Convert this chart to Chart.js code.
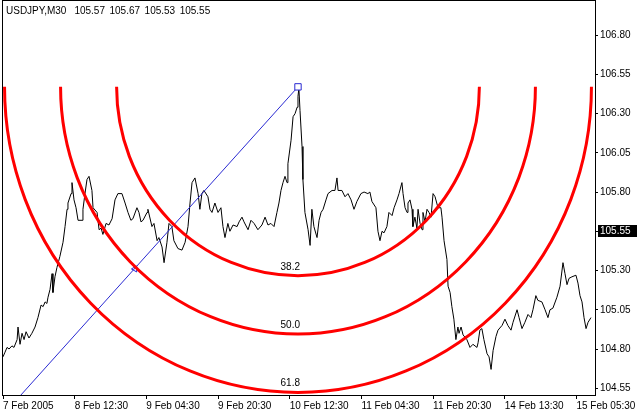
<!DOCTYPE html>
<html>
<head>
<meta charset="utf-8">
<script src="https://cdn.jsdelivr.net/npm/chart.js@4.4.1/dist/chart.umd.min.js"></script>
<style>
  html, body { margin: 0; padding: 0; background: #fff; }
  #wrap { width: 639px; height: 417px; }
</style>
</head>
<body>
<div id="wrap"><canvas id="chart"></canvas></div>
<script>
const symbol = 'USDJPY,M30';
const ohlc = [105.57, 105.67, 105.53, 105.55];

const xTickBars = [0, 32, 64, 96, 128, 160, 192, 224, 256];
const xTickLabels = ['7 Feb 2005', '8 Feb 12:30', '9 Feb 04:30', '9 Feb 20:30', '10 Feb 12:30',
  '11 Feb 04:30', '11 Feb 20:30', '14 Feb 13:30', '15 Feb 05:30'];
const yTicks = [104.55, 104.80, 105.05, 105.30, 105.55, 105.80, 106.05, 106.30, 106.55, 106.80];

// bar number (M30 bars since the left edge) and close price
const bars = [
  0, 0.9, 1.8, 2.7, 4.0, 4.9, 6.3, 6.7, 7.6, 8.5, 9.4, 10.3, 11.6, 12.9, 14.3, 15.6, 17.0, 17.9, 18.8, 19.6,
  20.1, 21.0, 21.9, 22.3, 23.2, 24.1, 25.4, 26.8, 27.7, 28.6, 29.0, 30.4, 30.8, 31.7, 32.6, 33.5, 35.3, 35.7, 36.6, 37.5,
  38.4, 39.7, 40.2, 42.0, 42.9, 43.8, 44.6, 46.0, 47.3, 48.7, 50.0, 51.3, 53.1, 54.5, 55.8, 57.1, 58.0, 59.8, 60.7, 61.6,
  62.5, 64.3, 64.7, 66.5, 67.4, 68.8, 69.6, 71.0, 71.9, 73.2, 74.1, 75.4, 76.3, 78.1, 79.9, 81.3, 82.6, 83.5, 84.4, 85.7,
  87.1, 87.9, 88.8, 89.7, 91.5, 92.4, 93.3, 94.6, 96.0, 97.3, 98.2, 99.1, 100.4, 101.3, 102.7, 104.5, 105.4, 106.7, 107.6, 109.4,
  110.7, 112.1, 113.8, 115.6, 117.0, 118.3, 119.6, 121.0, 122.3, 123.2, 124.1, 125.0, 125.9, 126.8, 127.2, 128.6, 129.5, 130.4, 131.3, 131.7,
  132.1, 132.6, 133.5, 133.9, 134.8, 136.2, 137.1, 137.9, 138.8, 140.2, 141.1, 142.0, 142.9, 144.2, 145.1, 146.9, 148.2, 149.1, 149.6, 151.3,
  152.7, 154.0, 155.4, 156.7, 158.0, 159.8, 161.2, 162.9, 163.8, 164.7, 166.5, 167.4, 168.3, 169.2, 170.1, 171.4, 172.3, 173.7, 174.6, 175.9,
  176.8, 178.1, 178.6, 179.5, 180.4, 180.8, 181.7, 182.6, 183.0, 183.9, 184.8, 185.3, 186.2, 187.1, 187.5, 188.4, 189.3, 190.2, 191.1, 192.0,
  192.9, 194.2, 195.5, 196.0, 196.9, 198.2, 198.7, 199.6, 200.4, 201.3, 202.2, 203.1, 203.6, 204.5, 205.4, 207.1, 208.5, 209.8, 211.6, 212.1,
  212.9, 213.8, 214.7, 216.1, 217.0, 217.9, 218.8, 220.1, 221.0, 222.8, 224.1, 225.4, 226.8, 227.7, 229.5, 230.4, 231.7, 233.0, 234.4, 235.7,
  236.6, 237.9, 238.8, 240.6, 242.0, 243.3, 244.2, 245.5, 247.3, 248.7, 250.0, 250.9, 251.8, 252.7, 254.0, 255.8, 256.7, 257.6, 258.5, 259.4,
  260.3, 261.2, 262.5
];
const closes = [
  104.75, 104.78, 104.81, 104.80, 104.82, 104.81, 104.86, 104.94, 104.83, 104.90, 104.86, 104.91, 104.87, 104.90, 104.94, 105.00, 105.08, 105.07, 105.10, 105.09,
  105.13, 105.18, 105.28, 105.16, 105.26, 105.32, 105.39, 105.48, 105.58, 105.69, 105.73, 105.79, 105.86, 105.75, 105.70, 105.62, 105.62, 105.69, 105.79, 105.88,
  105.90, 105.81, 105.70, 105.67, 105.56, 105.57, 105.53, 105.60, 105.59, 105.63, 105.75, 105.79, 105.79, 105.73, 105.67, 105.62, 105.63, 105.70, 105.67, 105.61,
  105.62, 105.67, 105.69, 105.58, 105.60, 105.49, 105.51, 105.45, 105.35, 105.48, 105.60, 105.58, 105.49, 105.44, 105.43, 105.48, 105.58, 105.73, 105.86, 105.89,
  105.79, 105.69, 105.79, 105.81, 105.77, 105.69, 105.67, 105.73, 105.67, 105.70, 105.58, 105.51, 105.60, 105.55, 105.59, 105.58, 105.61, 105.64, 105.61, 105.56,
  105.62, 105.60, 105.56, 105.59, 105.64, 105.59, 105.60, 105.58, 105.67, 105.73, 105.81, 105.86, 105.90, 105.86, 105.98, 106.13, 106.28, 106.30, 106.34, 106.41,
  106.46, 106.32, 106.09, 105.88, 105.67, 105.56, 105.46, 105.69, 105.58, 105.51, 105.62, 105.67, 105.69, 105.75, 105.79, 105.81, 105.81, 105.89, 105.81, 105.81,
  105.77, 105.79, 105.75, 105.69, 105.74, 105.79, 105.80, 105.79, 105.80, 105.74, 105.70, 105.55, 105.49, 105.55, 105.54, 105.58, 105.67, 105.65, 105.70, 105.75,
  105.79, 105.86, 105.79, 105.70, 105.67, 105.73, 105.75, 105.69, 105.58, 105.64, 105.57, 105.69, 105.60, 105.56, 105.67, 105.61, 105.69, 105.67, 105.64, 105.79,
  105.77, 105.70, 105.70, 105.64, 105.49, 105.37, 105.20, 105.16, 105.07, 104.99, 104.86, 104.94, 104.90, 104.94, 104.89, 104.86, 104.81, 104.83, 104.81, 104.84,
  104.92, 104.93, 104.86, 104.77, 104.75, 104.67, 104.79, 104.88, 104.92, 104.95, 104.99, 104.95, 104.92, 104.97, 105.05, 105.00, 104.93, 104.97, 105.02, 105.00,
  105.05, 105.14, 105.11, 105.10, 105.05, 105.00, 105.05, 105.06, 105.13, 105.20, 105.35, 105.28, 105.21, 105.25, 105.26, 105.27, 105.22, 105.14, 105.10, 105.00,
  104.93, 104.97, 105.00
];

// Fibonacci arcs: anchor points, levels, and the 100% arc span in bars / price
const fibHigh = { bar: 131.7, price: 106.47 };
const fibLow = { bar: 0, price: 104.38 };
const fibLevels = [38.2, 50.0, 61.8];
const arcSpanBars = 212;
const arcSpanPrice = 3.15;
const fibMarker = { bar: 58.9, price: 105.31 };

const FONT = '"Liberation Sans", Arial, sans-serif';

const mt4Plugin = {
  id: 'mt4',
  afterDatasetsDraw(chart) {
    const { ctx, chartArea: a, scales: { x, y } } = chart;
    const cx = x.getPixelForValue(fibHigh.bar);
    const cy = y.getPixelForValue(fibHigh.price);
    ctx.save();
    ctx.beginPath();
    ctx.rect(a.left, a.top, a.right - a.left, a.bottom - a.top);
    ctx.clip();
    ctx.strokeStyle = '#ff0000';
    ctx.lineWidth = 3;
    ctx.font = '10px ' + FONT;
    ctx.fillStyle = '#000';
    ctx.textAlign = 'right';
    ctx.textBaseline = 'alphabetic';
    fibLevels.forEach((lv) => {
      const f = lv / 100;
      const rx = x.getPixelForValue(fibHigh.bar + f * arcSpanBars) - cx;
      const ry = y.getPixelForValue(fibHigh.price - f * arcSpanPrice) - cy;
      ctx.beginPath();
      ctx.ellipse(cx, cy, rx, ry, 0, 0, Math.PI);
      ctx.stroke();
      ctx.fillText(lv.toFixed(1), cx + 2, cy + ry - 6);
    });
    ctx.restore();
  },
  afterDraw(chart) {
    const { ctx, chartArea: a, scales: { y } } = chart;
    ctx.save();
    // frame
    ctx.strokeStyle = '#000';
    ctx.lineWidth = 1;
    ctx.strokeRect(a.left - 0.5, a.top - 0.5, a.right - a.left + 1, a.bottom - a.top + 1);
    // title
    ctx.font = '10px ' + FONT;
    ctx.fillStyle = '#000';
    ctx.textBaseline = 'middle';
    ctx.textAlign = 'left';
    let tx = 6;
    ctx.fillText(symbol, tx, 11);
    tx += ctx.measureText(symbol).width + 8;
    ohlc.forEach((v) => {
      const s = v.toFixed(2);
      ctx.fillText(s, tx, 11);
      tx += ctx.measureText(s).width + 4.5;
    });
    // last price box
    const last = ohlc[3];
    const py = Math.round(y.getPixelForValue(last));
    ctx.fillStyle = '#000';
    ctx.fillRect(a.right + 3, py - 6, 39, 12);
    ctx.fillStyle = '#fff';
    ctx.fillText(last.toFixed(2), a.right + 5, py);
    ctx.restore();
  }
};

new Chart(document.getElementById('chart'), {
  type: 'line',
  data: {
    datasets: [
      {
        data: bars.map((b, i) => ({ x: b, y: closes[i] })),
        borderColor: '#000',
        borderWidth: 1,
        pointRadius: 0,
        tension: 0,
        order: 3
      },
      {
        data: [{ x: fibLow.bar, y: fibLow.price }, { x: fibHigh.bar, y: fibHigh.price }],
        borderColor: '#2a2ad2',
        borderWidth: 1,
        pointRadius: 0,
        order: 2
      },
      {
        data: [{ x: fibHigh.bar, y: fibHigh.price }],
        showLine: false,
        pointStyle: 'rect',
        pointRadius: 4.5,
        pointBorderWidth: 1,
        pointBorderColor: '#2a2ad2',
        pointBackgroundColor: '#fff',
        order: 1
      },
      {
        data: [{ x: fibMarker.bar, y: fibMarker.price }],
        showLine: false,
        pointStyle: 'triangle',
        rotation: -90,
        pointRadius: 3.5,
        pointBorderWidth: 1,
        pointBorderColor: '#2a2ad2',
        pointBackgroundColor: 'rgba(255,255,255,0)',
        order: 1
      }
    ]
  },
  options: {
    responsive: true,
    maintainAspectRatio: false,
    animation: false,
    devicePixelRatio: 1,
    layout: { autoPadding: false, padding: { left: 3, top: 1, right: 0, bottom: 0 } },
    plugins: { legend: { display: false }, tooltip: { enabled: false } },
    scales: {
      x: {
        type: 'linear',
        position: 'bottom',
        min: 0,
        max: 264.3,
        border: { display: false },
        grid: { drawOnChartArea: false, drawTicks: true, tickLength: 4, color: '#000' },
        ticks: {
          align: 'start',
          autoSkip: false,
          maxRotation: 0,
          padding: 1,
          color: '#000',
          font: { family: FONT, size: 10 },
          callback: (v, i) => xTickLabels[i]
        },
        afterBuildTicks: (s) => { s.ticks = xTickBars.map((v) => ({ value: v })); },
        afterFit: (s) => { s.height = 22; s.paddingLeft = 0; s.paddingRight = 0; }
      },
      y: {
        type: 'linear',
        position: 'right',
        min: 104.507,
        max: 107.017,
        border: { display: false },
        grid: { drawOnChartArea: false, drawTicks: true, tickLength: 3, color: '#000' },
        ticks: {
          padding: 2,
          color: '#000',
          font: { family: FONT, size: 10 },
          callback: (v) => v.toFixed(2)
        },
        afterBuildTicks: (s) => { s.ticks = yTicks.map((v) => ({ value: v })); },
        afterFit: (s) => { s.width = 44; s.paddingTop = 0; s.paddingBottom = 0; }
      }
    }
  },
  plugins: [mt4Plugin]
});
</script>
</body>
</html>
